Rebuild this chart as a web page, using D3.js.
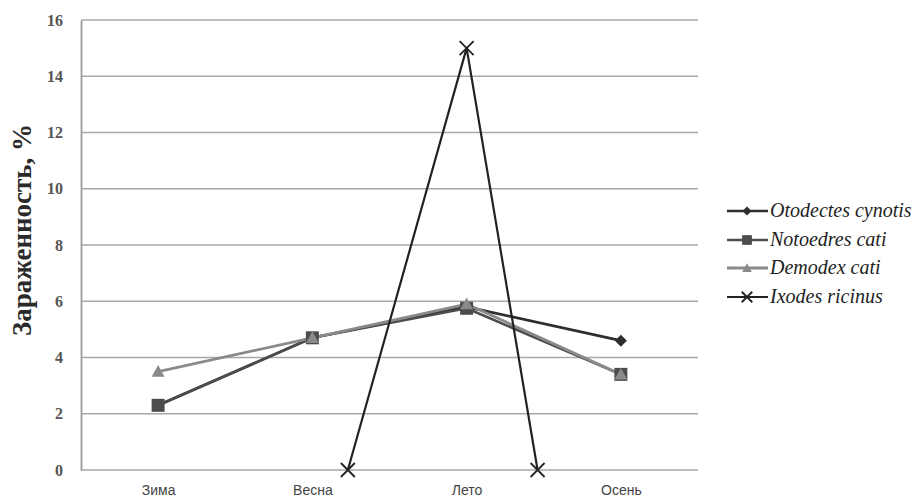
<!DOCTYPE html>
<html>
<head>
<meta charset="utf-8">
<script src="https://cdn.jsdelivr.net/npm/d3@7"></script>
<style>
  html, body { margin: 0; padding: 0; background: #fff; }
  svg { display: block; }
  .serif { font-family: 'Liberation Serif', 'DejaVu Serif', serif; }
  .sans { font-family: 'Liberation Sans', Arial, sans-serif; }
</style>
</head>
<body>
<svg id="chart" width="919" height="501"></svg>
<script>
// Seasons on the category axis
const seasons = ["Зима", "Весна", "Лето", "Осень"];
const yTicks = [0, 2, 4, 6, 8, 10, 12, 14, 16];

// Infestation rate by season, %
const otodectes = [2.3, 4.7, 5.8, 4.6];
const notoedres = [2.3, 4.7, 5.75, 3.4];
const demodex   = [3.5, 4.7, 5.9, 3.4];
// Ixodes ricinus is plotted at its own positions along the season axis
const ixodesPos = [1.23, 2, 2.46];
const ixodes    = [0, 15, 0];

const seriesNames = ["Otodectes cynotis", "Notoedres cati", "Demodex cati", "Ixodes ricinus"];

const svg = d3.select("#chart");
const plotLeft = 81, plotRight = 698, plotTop = 20, plotBottom = 470;

const x = d3.scaleLinear().domain([-0.5, 3.5]).range([plotLeft, plotRight]);
const y = d3.scaleLinear().domain([0, 16]).range([plotBottom, plotTop]);

// Horizontal gridlines
svg.append("g")
  .selectAll("line")
  .data(yTicks)
  .join("line")
  .attr("x1", plotLeft).attr("x2", plotRight)
  .attr("y1", d => y(d)).attr("y2", d => y(d))
  .attr("stroke", "#a8a8a8")
  .attr("stroke-width", 1.6);

// Y axis
const yAxis = svg.append("g")
  .attr("transform", `translate(${plotLeft},0)`)
  .call(d3.axisLeft(y).tickValues(yTicks).tickSize(0).tickPadding(18));
yAxis.attr("font-family", null);
yAxis.select(".domain").attr("stroke", "#9a9a9a").attr("stroke-width", 1.8);
yAxis.selectAll("text")
  .attr("class", "serif")
  .attr("font-weight", "bold")
  .attr("font-size", 16)
  .attr("fill", "#555");

// X axis labels
const xAxis = svg.append("g")
  .attr("transform", `translate(0,${plotBottom})`)
  .call(d3.axisBottom(x).tickValues([0, 1, 2, 3]).tickFormat(i => seasons[i]).tickSize(0).tickPadding(15));
xAxis.attr("font-family", null);
xAxis.select(".domain").remove();
xAxis.selectAll("text")
  .attr("class", "sans")
  .attr("font-size", 14)
  .attr("fill", "#444");

// Y axis title
svg.append("text")
  .attr("class", "serif")
  .attr("transform", `translate(31,230) rotate(-90)`)
  .attr("text-anchor", "middle")
  .attr("font-weight", "bold")
  .attr("font-size", 27)
  .attr("fill", "#2a2a2a")
  .text("Зараженность, %");

const line = d3.line().x(d => x(d[0])).y(d => y(d[1]));
const pairs = vals => vals.map((v, i) => [i, v]);

const styles = [
  { data: pairs(otodectes), color: "#2e2e2e", width: 2.6, marker: "diamond" },
  { data: pairs(notoedres), color: "#4c4c4c", width: 2.6, marker: "square" },
  { data: pairs(demodex),   color: "#8a8a8a", width: 2.8, marker: "triangle" },
  { data: ixodesPos.map((p, i) => [p, ixodes[i]]), color: "#222", width: 2.2, marker: "cross" }
];

function drawMarker(g, kind, cx, cy, color, scale = 1) {
  if (kind === "diamond") {
    const s = 6 * scale;
    g.append("path").attr("d", `M${cx},${cy - s}L${cx + s},${cy}L${cx},${cy + s}L${cx - s},${cy}Z`).attr("fill", color);
  } else if (kind === "square") {
    const s = 6.5 * scale;
    g.append("rect").attr("x", cx - s).attr("y", cy - s).attr("width", 2 * s).attr("height", 2 * s).attr("fill", color);
  } else if (kind === "triangle") {
    const s = 6.5 * scale;
    g.append("path").attr("d", `M${cx},${cy - s}L${cx + s},${cy + s * 0.8}L${cx - s},${cy + s * 0.8}Z`).attr("fill", color);
  } else if (kind === "cross") {
    const s = 7 * scale;
    g.append("path").attr("d", `M${cx - s},${cy - s}L${cx + s},${cy + s}M${cx + s},${cy - s}L${cx - s},${cy + s}`)
      .attr("stroke", color).attr("stroke-width", 1.8).attr("fill", "none");
  }
}

// Lines and markers, drawn in series order
const plot = svg.append("g");
styles.forEach(s => {
  plot.append("path")
    .datum(s.data)
    .attr("d", line)
    .attr("fill", "none")
    .attr("stroke", s.color)
    .attr("stroke-width", s.width)
    .attr("stroke-linejoin", "round");
});
styles.forEach(s => {
  const g = plot.append("g");
  s.data.forEach(d => drawMarker(g, s.marker, x(d[0]), y(d[1]), s.color));
});

// Legend
const legend = svg.append("g");
const legendY = [211, 240, 268, 297];
styles.forEach((s, i) => {
  const ly = legendY[i];
  legend.append("line")
    .attr("x1", 727).attr("x2", 768).attr("y1", ly).attr("y2", ly)
    .attr("stroke", s.color).attr("stroke-width", s.width);
  drawMarker(legend, s.marker, 747, ly, s.color, 0.75);
  legend.append("text")
    .attr("class", "serif")
    .attr("x", 770).attr("y", ly + 6)
    .attr("font-style", "italic")
    .attr("font-size", 20)
    .attr("fill", "#1e1e1e")
    .text(seriesNames[i]);
});
</script>
</body>
</html>
